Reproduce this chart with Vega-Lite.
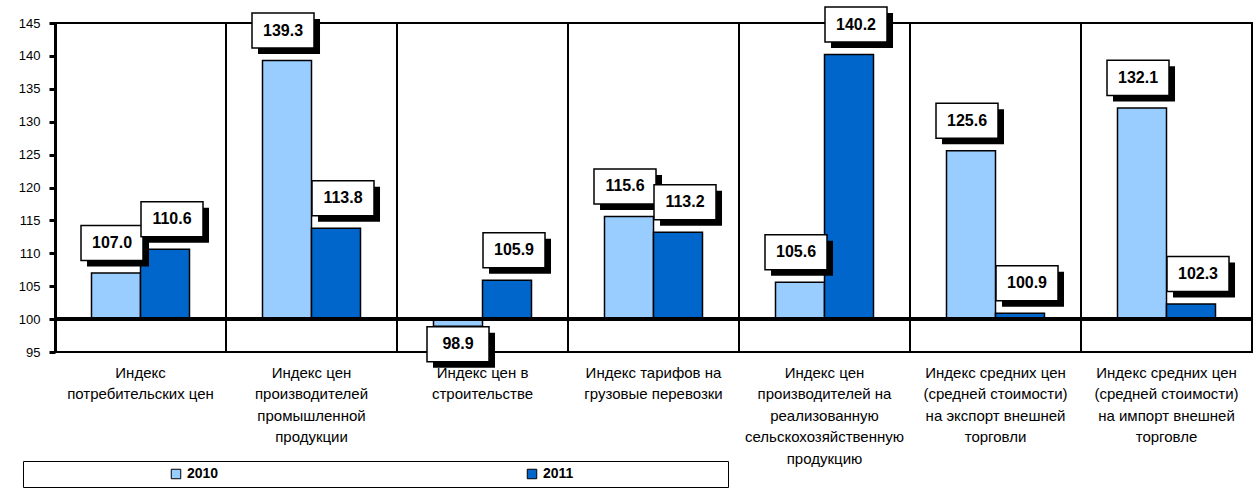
{
  "$schema": "https://vega.github.io/schema/vega-lite/v6.json",
  "width": 1197,
  "height": 329,
  "autosize": "none",
  "padding": {"left": 55, "top": 23, "right": 6, "bottom": 136},
  "background": "white",
  "config": {
    "view": {"stroke": "black", "strokeWidth": 2},
    "font": "Liberation Sans",
    "axis": {"labelOverlap": false}
  },
  "data": {
    "values": [
      {"cat": "Индекс|потребительских цен", "year": "2010", "value": 107.0},
      {"cat": "Индекс|потребительских цен", "year": "2011", "value": 110.6},
      {"cat": "Индекс цен|производителей|промышленной|продукции", "year": "2010", "value": 139.3},
      {"cat": "Индекс цен|производителей|промышленной|продукции", "year": "2011", "value": 113.8},
      {"cat": "Индекс цен в|строительстве", "year": "2010", "value": 98.9},
      {"cat": "Индекс цен в|строительстве", "year": "2011", "value": 105.9},
      {"cat": "Индекс тарифов на|грузовые перевозки", "year": "2010", "value": 115.6},
      {"cat": "Индекс тарифов на|грузовые перевозки", "year": "2011", "value": 113.2},
      {"cat": "Индекс цен|производителей на|реализованную|сельскохозяйственную|продукцию", "year": "2010", "value": 105.6},
      {"cat": "Индекс цен|производителей на|реализованную|сельскохозяйственную|продукцию", "year": "2011", "value": 140.2},
      {"cat": "Индекс средних цен|(средней стоимости)|на экспорт внешней|торговли", "year": "2010", "value": 125.6},
      {"cat": "Индекс средних цен|(средней стоимости)|на экспорт внешней|торговли", "year": "2011", "value": 100.9},
      {"cat": "Индекс средних цен|(средней стоимости)|на импорт внешней|торговле", "year": "2010", "value": 132.1},
      {"cat": "Индекс средних цен|(средней стоимости)|на импорт внешней|торговле", "year": "2011", "value": 102.3}
    ]
  },
  "encoding": {
    "x": {
      "field": "cat",
      "type": "nominal",
      "sort": null,
      "scale": {"paddingInner": 0, "paddingOuter": 0},
      "axis": {
        "title": null,
        "labelAngle": 0,
        "labelExpr": "split(datum.value, '|')",
        "labelFontSize": 15,
        "labelColor": "black",
        "labelLineHeight": 21.5,
        "labelPadding": 13,
        "labelLimit": 300,
        "ticks": false,
        "domain": false,
        "grid": false
      }
    },
    "y": {
      "field": "value",
      "type": "quantitative",
      "scale": {"domain": [95, 145], "nice": false, "zero": false},
      "axis": {
        "title": null,
        "tickCount": 10,
        "grid": false,
        "domainColor": "black",
        "domainWidth": 3,
        "tickColor": "black",
        "tickWidth": 3,
        "tickSize": 6,
        "labelFontSize": 13,
        "labelColor": "black",
        "labelPadding": 9,
        "labelOverlap": false
      }
    },
    "xOffset": {"field": "year", "type": "nominal", "scale": {"paddingInner": 0, "paddingOuter": 0.745}}
  },
  "layer": [
    {
      "mark": {"type": "rule", "color": "black", "strokeWidth": 2},
      "encoding": {"x": {"field": "cat", "type": "nominal", "sort": null, "bandPosition": 0}, "xOffset": {"value": 0}, "y": {"value": 0}, "y2": {"value": 329}}
    },
    {
      "mark": {"type": "rule", "color": "black", "strokeWidth": 2},
      "encoding": {"x": {"field": "cat", "type": "nominal", "sort": null, "bandPosition": 0.5}, "xOffset": {"value": 0}, "y": {"value": 0}, "y2": {"value": 329}}
    },
    {
      "mark": {"type": "bar", "stroke": "black", "strokeWidth": 1.5},
      "encoding": {
        "y2": {"datum": 100},
        "color": {
          "field": "year",
          "type": "nominal",
          "scale": {"range": ["#99CCFF", "#0066CC"]},
          "legend": {
            "title": "\u2800\u00a0\u00a0\u00a0\u00a0\u00a0\u00a0\u00a0\u00a0\u00a0\u00a0\u00a0\u00a0\u00a0\u00a0\u00a0\u00a0\u00a0\u00a0\u00a0\u00a0\u00a0\u00a0\u00a0\u00a0\u00a0\u00a0\u00a0\u00a0\u00a0\u00a0\u00a0\u00a0\u00a0\u2800",
            "titleOrient": "right",
            "titleFontSize": 14,
            "titlePadding": 0,
            "titleLimit": 400,
            "orient": "none",
            "legendX": -32,
            "legendY": 438,
            "direction": "horizontal",
            "fillColor": "white",
            "strokeColor": "black",
            "padding": 6,
            "symbolType": "square",
            "symbolSize": 90,
            "symbolStrokeColor": "black",
            "symbolStrokeWidth": 1,
            "symbolOffset": 140,
            "columnPadding": 166,
            "labelFontSize": 14,
            "labelFontWeight": "bold",
            "labelColor": "black"
          }
        }
      }
    },
    {
      "mark": {"type": "rule", "color": "black", "strokeWidth": 3},
      "encoding": {"y": {"datum": 100, "type": "quantitative"}, "x": {"value": 0}, "x2": {"value": 1197}, "xOffset": {"value": 0}}
    },
    {
      "transform": [{"filter": "datum.value >= 100 && datum.year == '2010'"}],
      "layer": [
        {
          "mark": {"type": "point", "filled": true, "fill": "black", "opacity": 1, "strokeWidth": 0, "size": 3844,
            "shape": "M-0.935,-1.339H1.065V-0.209H-0.935Z"}
        },
        {
          "mark": {"type": "point", "filled": true, "fill": "white", "stroke": "black", "strokeWidth": 1.5, "opacity": 1, "size": 3844,
            "shape": "M-1.129,-1.533H0.871V-0.403H-1.129Z"}
        },
        {
          "mark": {"type": "text", "dy": -30, "dx": -4, "baseline": "middle", "fontSize": 16, "fontWeight": "bold", "color": "black"},
          "encoding": {"text": {"field": "value", "type": "quantitative", "format": ".1f"}}
        }
      ]
    },
    {
      "transform": [{"filter": "datum.value >= 100 && datum.year == '2011'"}],
      "layer": [
        {
          "mark": {"type": "point", "filled": true, "fill": "black", "opacity": 1, "strokeWidth": 0, "size": 3844,
            "shape": "M-0.580,-1.339H1.420V-0.209H-0.580Z"}
        },
        {
          "mark": {"type": "point", "filled": true, "fill": "white", "stroke": "black", "strokeWidth": 1.5, "opacity": 1, "size": 3844,
            "shape": "M-0.774,-1.533H1.226V-0.403H-0.774Z"}
        },
        {
          "mark": {"type": "text", "dy": -30, "dx": 7, "baseline": "middle", "fontSize": 16, "fontWeight": "bold", "color": "black"},
          "encoding": {"text": {"field": "value", "type": "quantitative", "format": ".1f"}}
        }
      ]
    },
    {
      "transform": [{"filter": "datum.value < 100"}],
      "layer": [
        {
          "mark": {"type": "point", "filled": true, "fill": "black", "opacity": 1, "strokeWidth": 0, "size": 3844,
            "shape": "M-0.806,0.210H1.194V1.339H-0.806Z"}
        },
        {
          "mark": {"type": "point", "filled": true, "fill": "white", "stroke": "black", "strokeWidth": 1.5, "opacity": 1, "size": 3844,
            "shape": "M-1,0.016H1V1.146H-1Z"}
        },
        {
          "mark": {"type": "text", "dy": 18, "baseline": "middle", "fontSize": 16, "fontWeight": "bold", "color": "black"},
          "encoding": {"text": {"field": "value", "type": "quantitative", "format": ".1f"}}
        }
      ]
    }
  ]
}
